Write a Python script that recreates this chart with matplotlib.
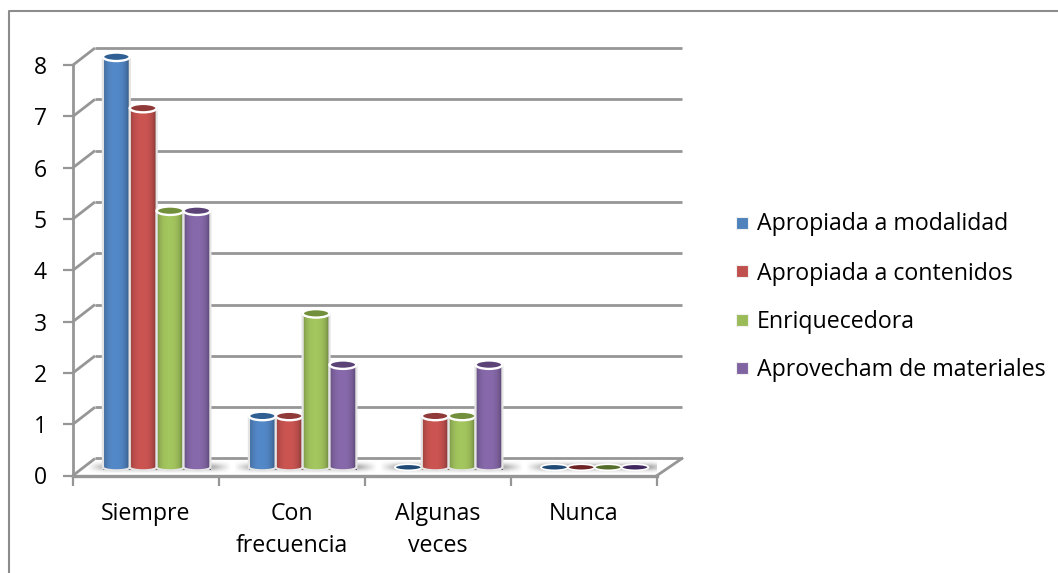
#3D style clustered columns, drawn on plain 2D axes
import numpy as np
import matplotlib
matplotlib.use('Agg')
import matplotlib.pyplot as plt
from matplotlib.lines import Line2D
from matplotlib.patches import Ellipse, PathPatch, Rectangle
from matplotlib.path import Path
from matplotlib.colors import to_rgb

plt.rcParams['font.family'] = ['Open Sans', 'DejaVu Sans']

#Data
categories = ['Siempre', 'Con\nfrecuencia', 'Algunas\nveces', 'Nunca']
series_names = ['Apropiada a modalidad', 'Apropiada a contenidos', 'Enriquecedora', 'Aprovecham de materiales']
modalidad = [8, 1, 0, 0]
contenidos = [7, 1, 1, 0]
enriquecedora = [5, 3, 1, 0]
materiales = [5, 2, 2, 0]
all_series = [modalidad, contenidos, enriquecedora, materiales]
y_ticks = list(range(0, 9))

#Colours
light = ['#4f81bd', '#c0504d', '#9bbb59', '#8064a2']
top_col = ['#2f5f93', '#8f3a38', '#72903c', '#5b4378']
zero_col = ['#1f4a75', '#6e2424', '#566e2c', '#40285f']
grid_col = '#969696'

W, H = 1058, 573
fig = plt.figure(figsize=(W/100, H/100), dpi=100)

#Chart border, only top and left show in the crop
fig.add_artist(Line2D([9/W, 9/W, 1], [0, 1-10.5/H, 1-10.5/H], transform=fig.transFigure,
                      color='#8c8c8c', lw=1.5, zorder=-1))

#Front plane: x 73 to 657 px, y 475.5 to 65 px
ax = fig.add_axes([73/W, 1-475.5/H, 584/W, 410.5/H])
ax.set_xlim(0, 4)
ax.set_ylim(0, 8)
ax.patch.set_alpha(0)

#depth of the box in data units
dx = 22/146
dx_r = 25/146
dy = 17/51.3

#back wall gridlines and side wall
for v in y_ticks:
    ax.plot([0, dx], [v, v+dy], color=grid_col, lw=2, clip_on=False, solid_capstyle='butt', zorder=1)
    ax.plot([dx, 4+dx_r], [v+dy, v+dy], color=grid_col, lw=2, clip_on=False, solid_capstyle='butt', zorder=1)
ax.plot([4, 4+dx_r], [0, dy], color=grid_col, lw=2, clip_on=False, zorder=1)
ax.plot([0, 0], [0, 8], color=grid_col, lw=2, clip_on=False, zorder=1)
ax.plot([0, 4], [0, 0], color=grid_col, lw=2.4, clip_on=False, zorder=1)

#Axis ticks and labels
for s in ax.spines.values():
    s.set_visible(False)
ax.set_yticks(y_ticks)
ax.set_xticks(range(5))
ax.set_xticklabels([])
ax.set_xticks(np.arange(len(categories))+0.5, categories, minor=True)
ax.tick_params(axis='y', length=7, width=1.6, color=grid_col, labelsize=16.5, pad=12, labelcolor='black')
ax.tick_params(axis='x', which='major', length=7, width=1.6, color=grid_col)
ax.tick_params(axis='x', which='minor', length=0, labelsize=16.65, pad=19, labelcolor='black')
for lab in ax.get_xticklabels(minor=True):
    lab.set_linespacing(1.47)
    lab.set_verticalalignment('top')

#Column geometry
bar_w = 0.184
start = 0.205
base = 0.16
ell_h = 0.165  #full height of the end ellipse in value units

#Floor shadow under each group, soft on all sides
xs = np.linspace(0, 1, 200)
ys = np.linspace(-1, 1, 30)
for c in range(len(categories)):
    x0, x1 = c+start-0.1, c+start+4*bar_w+0.14
    fade_x = np.clip(np.minimum(xs, 1-xs)/0.12, 0, 1)
    fade_y = np.exp(-(ys*1.6)**2)
    im = np.zeros((30, 200, 4))
    im[..., :3] = 0.5
    im[..., 3] = np.outer(fade_y, fade_x)*0.6
    ax.imshow(im, extent=(x0, x1, base-0.11, base+0.11), aspect='auto', zorder=2, interpolation='bilinear')
ax.set_xlim(0, 4)
ax.set_ylim(0, 8)

#Cylinders
for i, vals in enumerate(all_series):
    rgb = np.array(to_rgb(light[i]))
    for c, v in enumerate(vals):
        x0 = c+start+i*bar_w
        xc = x0+bar_w/2
        w = bar_w
        z = 3+c*0.01+i*0.1
        if v == 0:
            ax.add_patch(Ellipse((xc, base), w, ell_h*0.72, fc=zero_col[i], ec='white', lw=1.2, zorder=z, clip_on=False))
            continue
        top = base+v
        k = 0.5522847
        l, r = xc-w/2, xc+w/2
        rh = ell_h*0.36
        verts = [(l, top), (l, base), (l, base-k*rh), (xc-k*w/2, base-rh), (xc, base-rh),
                 (xc+k*w/2, base-rh), (r, base-k*rh), (r, base), (r, top), (l, top)]
        codes = [Path.MOVETO, Path.LINETO, Path.CURVE4, Path.CURVE4, Path.CURVE4,
                 Path.CURVE4, Path.CURVE4, Path.CURVE4, Path.LINETO, Path.CLOSEPOLY]
        body = PathPatch(Path(verts, codes), fc='none', ec='#e4e4e4', lw=1.6, zorder=z+0.02, clip_on=False)
        ax.add_patch(body)
        #horizontal shading across the cylinder
        t = np.linspace(-1, 1, 60)
        shade = 0.6+0.46*np.sqrt(np.clip(1-np.abs(t+0.08)**2.2, 0, 1))
        img = np.clip(rgb[None, None, :]*shade[None, :, None], 0, 1)
        g = ax.imshow(img, extent=(l, r, base-rh, top), aspect='auto', zorder=z, interpolation='bilinear', clip_on=False)
        g.set_clip_path(PathPatch(Path(verts, codes), transform=ax.transData))
        ax.add_patch(Ellipse((xc, top), w, ell_h, fc=top_col[i], ec='white', lw=1.7, zorder=z+0.03, clip_on=False))
ax.set_xlim(0, 4)
ax.set_ylim(0, 8)

#Legend on the figure
leg_y = [223, 272, 320, 368]
for name, col, y in zip(series_names, light, leg_y):
    fig.add_artist(Rectangle((736/W, 1-(y+5.5)/H), 12/W, 12/H, transform=fig.transFigure, fc=col, ec='#f0f0f0', lw=0.8))
    fig.text(757/W, 1-(y+1.5)/H, name, fontsize=16.65, va='center', ha='left', color='black')

fig.savefig('out.png', dpi=100)
